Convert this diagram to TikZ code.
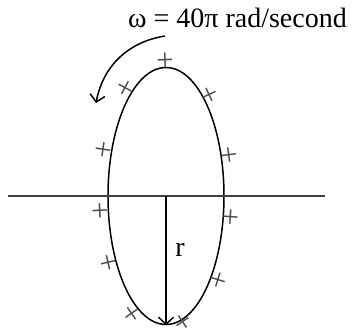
\documentclass[tikz,border=0pt]{standalone}
\usepackage{fontspec}
\setmainfont{Liberation Serif}
\usepackage{tikz}
\usetikzlibrary{arrows.meta, shapes.geometric}

\begin{document}
\begin{tikzpicture}[x=1pt, y=1pt, line width=1.5pt,
    >={Straight Barb[length=7pt, width=15pt]},
    every node/.style={font=\fontsize{28}{30}\selectfont},
    charge/.style={font=\fontsize{31}{32}\selectfont, text=black!70, inner sep=0pt}]
  \useasboundingbox (0,0) rectangle (357,335);

  % orbit and the axis through its centre
  \node[draw, ellipse, minimum width=116pt, minimum height=257pt, inner sep=0pt] (orbit) at (166,139) {};
  \coordinate (axisL) at (8,139);
  \coordinate (axisR) at (325,139);
  \draw[black!75] (axisL) -- (axisR);

  % radius
  \draw[->] (orbit.center) -- (orbit.south);
  \node[anchor=base] (rlab) at (180,78) {r};

  % angular speed
  \node[anchor=base] (omega) at (237.5,307) {ω = 40π rad/second};
  \coordinate (spinA) at (165,299);
  \coordinate (spinB) at (96,232);
  \draw[->] (spinA) to[bend right=35] (spinB);

  % charges round the orbit
  \foreach \x/\y/\t [count=\i] in {165/59/91, 124/87/130, 211/94/46, 102/149/162,
      231/155/16, 99/211/186, 232/217/352, 107/263/207, 220/281/325,
      131/315/237, 184/323/287}{
    \pgfmathsetmacro\rot{atan2(128.5*cos(\t), -58*sin(\t))}
    \node[charge, rotate=\rot] (q\i) at (\x,335-\y) {+};
  }
\end{tikzpicture}
\end{document}
